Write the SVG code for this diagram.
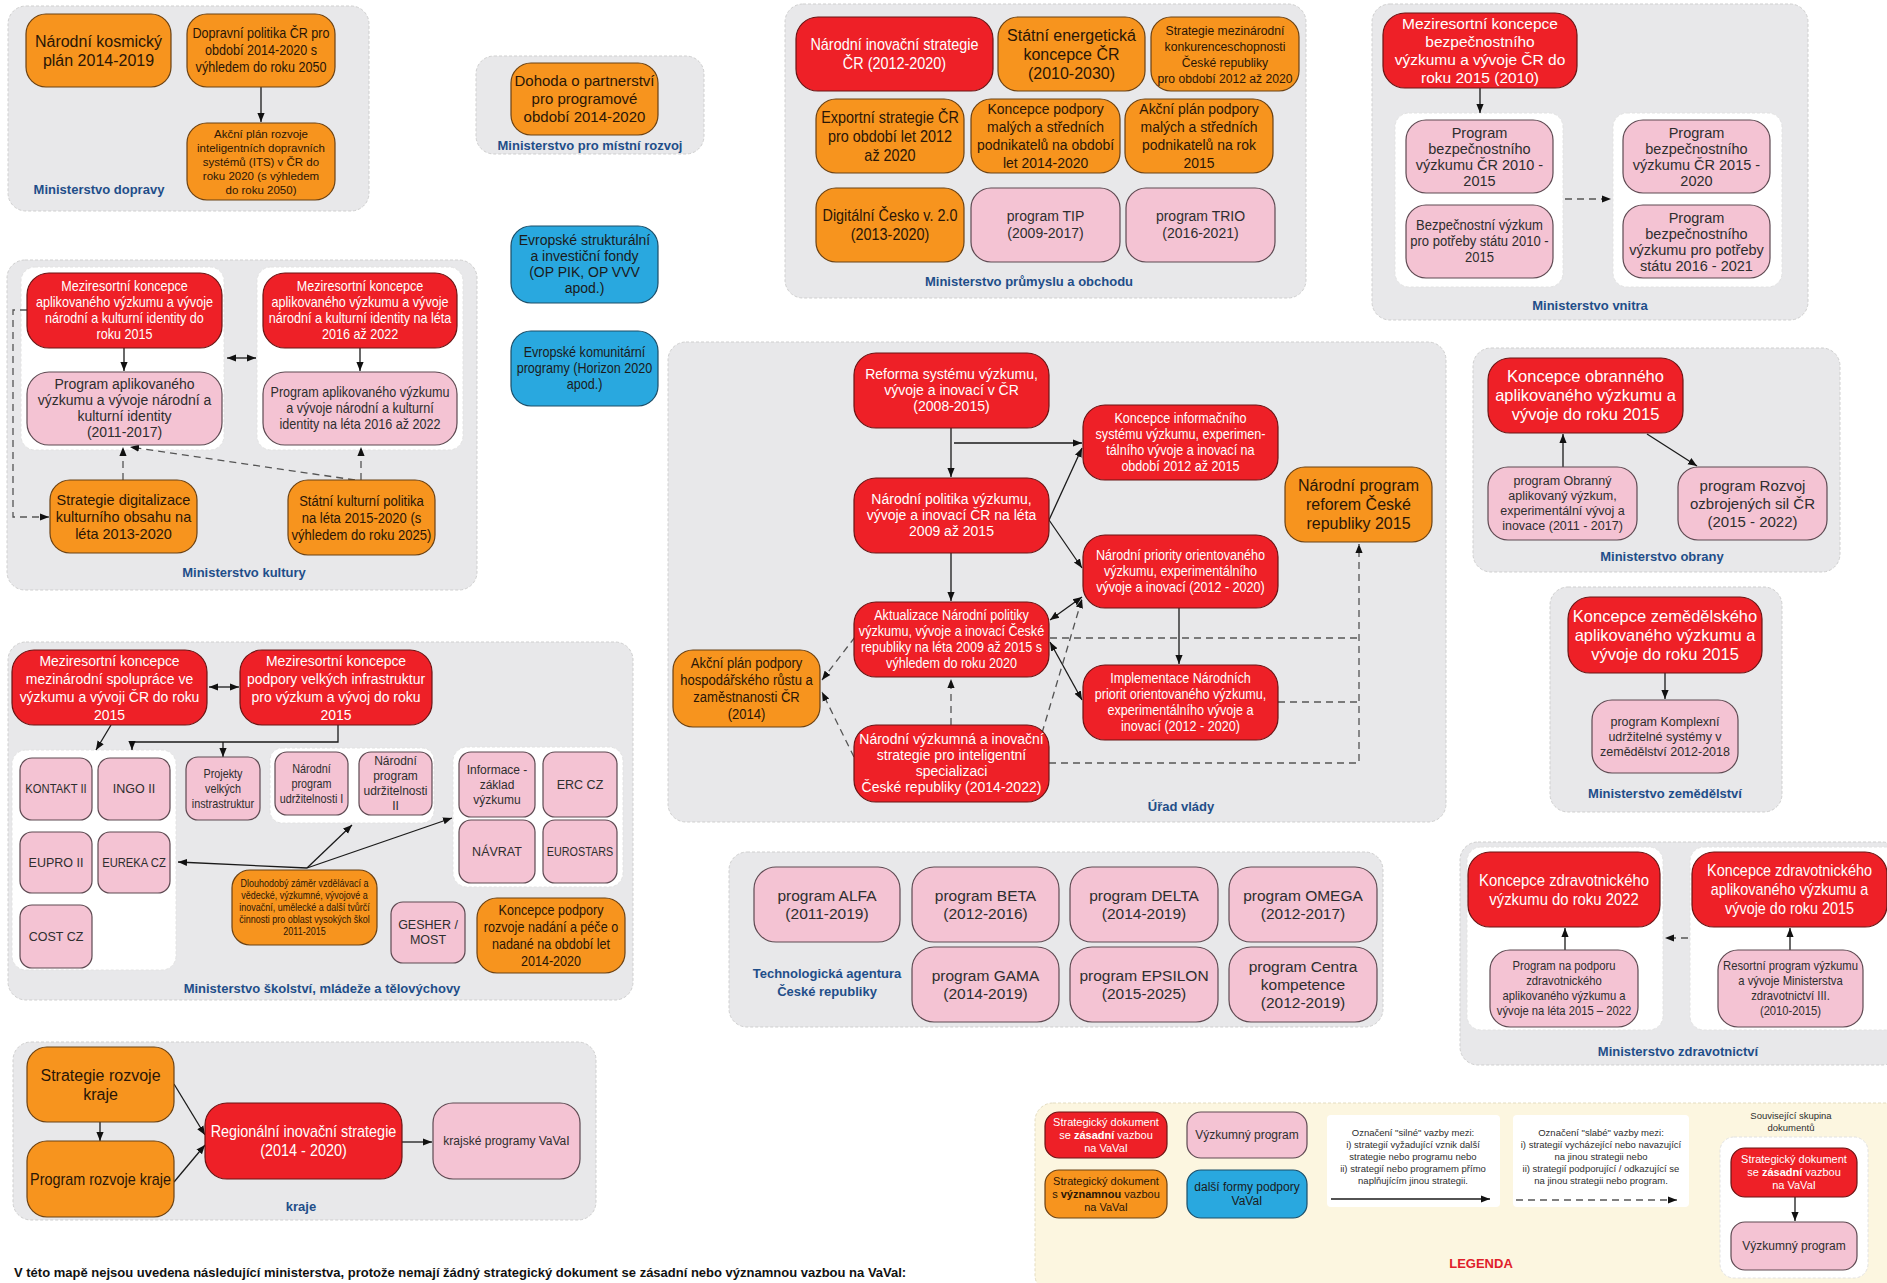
<svg xmlns="http://www.w3.org/2000/svg" width="1887" height="1283" viewBox="0 0 1887 1283">
<defs>
<style>
text{font-family:"Liberation Sans",Arial,sans-serif;text-anchor:middle}
.n{transform-box:fill-box;transform-origin:center;transform:scaleX(0.9)}
.grp{fill:#e8e8ea;stroke:#cfcfcf;stroke-width:1;stroke-dasharray:3 2}
.sub{fill:#ffffff;stroke:#e2e2e2;stroke-width:1;stroke-dasharray:3 2}
.leg{fill:#fcf6e0;stroke:#e3dcc0;stroke-width:1;stroke-dasharray:3 2}
.red{fill:#ee2027;stroke:#6b1414;stroke-width:1.2}
.org{fill:#f7941e;stroke:#6b4214;stroke-width:1.2}
.pnk{fill:#f4c3d3;stroke:#5e4a52;stroke-width:1.2}
.blu{fill:#29a8df;stroke:#1c4e68;stroke-width:1.2}
.wb{fill:#ffffff;stroke:none}
.tw{fill:#ffffff}
.to{fill:#2a1606}
.tp{fill:#2e2e2e}
.tb{fill:#1b1b1b}
.lbl{fill:#1f4e89;font-weight:bold;font-size:13px}
.c{stroke:#1a1a1a;stroke-width:1.3;fill:none;marker-end:url(#ah)}
.cc{stroke:#1a1a1a;stroke-width:1.3;fill:none;marker-end:url(#ah);marker-start:url(#ah)}
.d{stroke:#555555;stroke-width:1.3;fill:none;stroke-dasharray:7 5;marker-end:url(#ah)}
.dl{stroke:#555555;stroke-width:1.3;fill:none;stroke-dasharray:7 5}
</style>
<marker id="ah" viewBox="0 0 10 10" refX="10" refY="5" markerWidth="9" markerHeight="9" markerUnits="userSpaceOnUse" orient="auto-start-reverse"><path d="M0,1 L10,5 L0,9 z" fill="#111111"/></marker>
</defs>
<rect x="0" y="0" width="1887" height="1283" fill="#ffffff"/>

<g id="panels">
<rect class="grp" x="8" y="6" width="361" height="205" rx="18"/>
<rect class="grp" x="476" y="56" width="228" height="98" rx="18"/>
<rect class="grp" x="785" y="4" width="521" height="294" rx="18"/>
<rect class="grp" x="1372" y="4" width="436" height="316" rx="18"/>
<rect class="grp" x="7" y="260" width="470" height="330" rx="18"/>
<rect class="sub" x="21" y="267" width="203" height="183" rx="14"/>
<rect class="sub" x="257" y="267" width="206" height="183" rx="14"/>
<rect class="grp" x="8" y="642" width="625" height="358" rx="18"/>
<rect class="sub" x="12" y="750" width="164" height="220" rx="14"/>
<rect class="sub" x="270" y="748" width="164" height="75" rx="12"/>
<rect class="sub" x="453" y="747" width="170" height="140" rx="14"/>
<rect class="grp" x="13" y="1042" width="583" height="178" rx="18"/>
<rect class="grp" x="668" y="342" width="778" height="480" rx="18"/>
<rect class="grp" x="729" y="852" width="654" height="175" rx="18"/>
<rect class="grp" x="1473" y="348" width="367" height="224" rx="18"/>
<rect class="grp" x="1550" y="587" width="232" height="225" rx="18"/>
<rect class="grp" x="1460" y="842" width="440" height="223" rx="18"/>
<rect class="sub" x="1395" y="113" width="168" height="174" rx="14"/>
<rect class="sub" x="1613" y="113" width="169" height="174" rx="14"/>
<rect class="sub" x="1467" y="847" width="196" height="183" rx="14"/>
<rect class="sub" x="1690" y="847" width="210" height="183" rx="14"/>
<rect class="leg" x="1035" y="1103" width="870" height="190" rx="18"/>
<rect class="wb" x="1327" y="1115" width="173" height="92" rx="4"/>
<rect class="wb" x="1513" y="1115" width="176" height="92" rx="4"/>
<rect class="sub" x="1720" y="1137" width="148" height="141" rx="14"/>
</g>

<g id="labels">
<text class="lbl" x="99" y="194">Ministerstvo dopravy</text>
<text class="lbl" x="590" y="150">Ministerstvo pro místní rozvoj</text>
<text class="lbl" x="1029" y="286">Ministerstvo průmyslu a obchodu</text>
<text class="lbl" x="1590" y="310">Ministerstvo vnitra</text>
<text class="lbl" x="244" y="577">Ministerstvo kultury</text>
<text class="lbl" x="322" y="993">Ministerstvo školství, mládeže a tělovýchovy</text>
<text class="lbl" x="301" y="1211">kraje</text>
<text class="lbl" x="1181" y="811">Úřad vlády</text>
<text class="lbl" x="827" y="978">Technologická agentura</text>
<text class="lbl" x="827" y="996">České republiky</text>
<text class="lbl" x="1662" y="561">Ministerstvo obrany</text>
<text class="lbl" x="1665" y="798">Ministerstvo zemědělství</text>
<text class="lbl" x="1678" y="1056">Ministerstvo zdravotnictví</text>
<text x="1481" y="1268" style="fill:#e0202a;font-weight:bold;font-size:13px">LEGENDA</text>
<text x="14" y="1277" style="text-anchor:start;fill:#111111;font-weight:bold;font-size:13px">V této mapě nejsou uvedena následující ministerstva, protože nemají žádný strategický dokument se zásadní nebo významnou vazbou na VaVaI:</text>
</g>

<g id="connectors">
<line class="c" x1="261" y1="87" x2="261" y2="122"/>
<line class="c" x1="1480" y1="88" x2="1480" y2="113"/>
<line class="d" x1="1565" y1="199" x2="1611" y2="199"/>
<line class="cc" x1="227" y1="358" x2="256" y2="358"/>
<line class="c" x1="124" y1="348" x2="124" y2="371"/>
<line class="c" x1="360" y1="348" x2="360" y2="371"/>
<line class="d" x1="123" y1="480" x2="123" y2="447"/>
<line class="d" x1="361" y1="480" x2="361" y2="447"/>
<line class="d" x1="355" y1="480" x2="130" y2="447"/>
<path class="d" d="M27,310 H13 V517 H49"/>
<line class="cc" x1="209" y1="687" x2="239" y2="687"/>
<line class="c" x1="111" y1="725" x2="96" y2="750"/>
<path class="c" d="M338,725 V742 H132 V750"/>
<line class="c" x1="223" y1="742" x2="223" y2="757"/>
<line class="c" x1="307" y1="868" x2="178" y2="862"/>
<line class="c" x1="307" y1="868" x2="352" y2="825"/>
<line class="c" x1="307" y1="868" x2="452" y2="818"/>
<line class="c" x1="100" y1="1122" x2="100" y2="1141"/>
<line class="c" x1="174" y1="1084" x2="205" y2="1135"/>
<line class="c" x1="174" y1="1182" x2="205" y2="1145"/>
<line class="c" x1="402" y1="1142" x2="432" y2="1142"/>
<line class="c" x1="951" y1="428" x2="951" y2="477"/>
<path class="c" d="M954,443 H1082"/>
<line class="c" x1="1049" y1="520" x2="1082" y2="448"/>
<line class="c" x1="1049" y1="520" x2="1082" y2="568"/>
<line class="c" x1="951" y1="553" x2="951" y2="601"/>
<line class="cc" x1="1050" y1="620" x2="1082" y2="597"/>
<line class="c" x1="1179" y1="608" x2="1179" y2="664"/>
<line class="cc" x1="1050" y1="642" x2="1082" y2="700"/>
<path class="dl" d="M1050,638 H1359"/>
<path class="dl" d="M1278,702 H1359"/>
<path class="d" d="M1049,763 H1359 V544"/>
<line class="d" x1="951" y1="725" x2="951" y2="679"/>
<line class="d" x1="1042" y1="733" x2="1082" y2="599"/>
<line class="d" x1="855" y1="637" x2="822" y2="680"/>
<line class="d" x1="854" y1="757" x2="822" y2="692"/>
<line class="c" x1="1563" y1="467" x2="1563" y2="434"/>
<line class="c" x1="1647" y1="434" x2="1697" y2="466"/>
<line class="c" x1="1665" y1="673" x2="1665" y2="699"/>
<line class="c" x1="1565" y1="950" x2="1565" y2="928"/>
<line class="c" x1="1790" y1="950" x2="1790" y2="928"/>
<line class="d" x1="1688" y1="938" x2="1665" y2="938"/>
<line class="c" x1="1331" y1="1199" x2="1490" y2="1199"/>
<line class="d" x1="1516" y1="1200" x2="1677" y2="1200"/>
<line class="c" x1="1795" y1="1197" x2="1795" y2="1221"/>
</g>

<g id="dop1"><rect class="org" x="26" y="14" width="145" height="73" rx="20"/><text class="to" x="98.5" y="46.6" font-size="16"><tspan x="98.5">Národní kosmický</tspan><tspan x="98.5" dy="19">plán 2014-2019</tspan></text></g>
<g id="dop2"><rect class="org" x="187" y="14" width="148" height="73" rx="20"/><text class="to n" x="261" y="38.4" font-size="14"><tspan x="261">Dopravní politika ČR pro</tspan><tspan x="261" dy="17">období 2014-2020 s</tspan><tspan x="261" dy="17">výhledem do roku 2050</tspan></text></g>
<g id="dop3"><rect class="org" x="187" y="123" width="148" height="77" rx="20"/><text class="to" x="261" y="137.5" font-size="11.5"><tspan x="261">Akční plán rozvoje</tspan><tspan x="261" dy="14">inteligentních dopravních</tspan><tspan x="261" dy="14">systémů (ITS) v ČR do</tspan><tspan x="261" dy="14">roku 2020 (s výhledem</tspan><tspan x="261" dy="14">do roku 2050)</tspan></text></g>

<g id="mmr1"><rect class="org" x="511" y="63" width="147" height="72" rx="20"/><text class="to" x="584.5" y="86.3" font-size="15"><tspan x="584.5">Dohoda o partnerství</tspan><tspan x="584.5" dy="18">pro programové</tspan><tspan x="584.5" dy="18">období 2014-2020</tspan></text></g>
<g id="eu1"><rect class="blu" x="511" y="226" width="147" height="77" rx="20"/><text class="tb" x="584.5" y="245.4" font-size="14"><tspan x="584.5">Evropské strukturální</tspan><tspan x="584.5" dy="16">a investiční fondy</tspan><tspan x="584.5" dy="16">(OP PIK, OP VVV</tspan><tspan x="584.5" dy="16">apod.)</tspan></text></g>
<g id="eu2"><rect class="blu" x="511" y="331" width="147" height="75" rx="20"/><text class="tb n" x="584.5" y="357.4" font-size="14"><tspan x="584.5">Evropské komunitární</tspan><tspan x="584.5" dy="16">programy (Horizon 2020</tspan><tspan x="584.5" dy="16">apod.)</tspan></text></g>

<g id="mpo1"><rect class="red" x="796" y="17" width="197" height="74" rx="22"/><text class="tw n" x="894.5" y="50.1" font-size="16"><tspan x="894.5">Národní inovační strategie</tspan><tspan x="894.5" dy="19">ČR (2012-2020)</tspan></text></g>
<g id="mpo2"><rect class="org" x="998" y="17" width="147" height="74" rx="20"/><text class="to" x="1071.5" y="40.6" font-size="16"><tspan x="1071.5">Státní energetická</tspan><tspan x="1071.5" dy="19">koncepce ČR</tspan><tspan x="1071.5" dy="19">(2010-2030)</tspan></text></g>
<g id="mpo3"><rect class="org" x="1151" y="17" width="148" height="74" rx="20"/><text class="to n" x="1225" y="34.7" font-size="13.5"><tspan x="1225">Strategie mezinárodní</tspan><tspan x="1225" dy="16">konkurenceschopnosti</tspan><tspan x="1225" dy="16">České republiky</tspan><tspan x="1225" dy="16">pro období 2012 až 2020</tspan></text></g>
<g id="mpo4"><rect class="org" x="816" y="99" width="148" height="74" rx="20"/><text class="to n" x="890" y="122.6" font-size="16"><tspan x="890">Exportní strategie ČR</tspan><tspan x="890" dy="19">pro období let 2012</tspan><tspan x="890" dy="19">až 2020</tspan></text></g>
<g id="mpo5"><rect class="org" x="971" y="99" width="149" height="74" rx="20"/><text class="to n" x="1045.5" y="114.4" font-size="15.5"><tspan x="1045.5">Koncepce podpory</tspan><tspan x="1045.5" dy="18">malých a středních</tspan><tspan x="1045.5" dy="18">podnikatelů na období</tspan><tspan x="1045.5" dy="18">let 2014-2020</tspan></text></g>
<g id="mpo6"><rect class="org" x="1125" y="99" width="148" height="74" rx="20"/><text class="to n" x="1199" y="114.4" font-size="15.5"><tspan x="1199">Akční plán podpory</tspan><tspan x="1199" dy="18">malých a středních</tspan><tspan x="1199" dy="18">podnikatelů na rok</tspan><tspan x="1199" dy="18">2015</tspan></text></g>
<g id="mpo7"><rect class="org" x="816" y="188" width="148" height="74" rx="20"/><text class="to n" x="890" y="221.1" font-size="16"><tspan x="890">Digitální Česko v. 2.0</tspan><tspan x="890" dy="19">(2013-2020)</tspan></text></g>
<g id="mpo8"><rect class="pnk" x="971" y="188" width="149" height="74" rx="20"/><text class="tp" x="1045.5" y="221.4" font-size="14"><tspan x="1045.5">program TIP</tspan><tspan x="1045.5" dy="17">(2009-2017)</tspan></text></g>
<g id="mpo9"><rect class="pnk" x="1126" y="188" width="149" height="74" rx="20"/><text class="tp" x="1200.5" y="221.4" font-size="14"><tspan x="1200.5">program TRIO</tspan><tspan x="1200.5" dy="17">(2016-2021)</tspan></text></g>

<g id="mv1"><rect class="red" x="1383" y="13" width="194" height="75" rx="22"/><text class="tw" x="1480" y="28.9" font-size="15.5"><tspan x="1480">Meziresortní koncepce</tspan><tspan x="1480" dy="18">bezpečnostního</tspan><tspan x="1480" dy="18">výzkumu a vývoje ČR do</tspan><tspan x="1480" dy="18">roku 2015 (2010)</tspan></text></g>
<g id="mv2"><rect class="pnk" x="1406" y="120" width="147" height="73" rx="20"/><text class="tp" x="1479.5" y="137.5" font-size="14.5"><tspan x="1479.5">Program</tspan><tspan x="1479.5" dy="16">bezpečnostního</tspan><tspan x="1479.5" dy="16">výzkumu ČR 2010 -</tspan><tspan x="1479.5" dy="16">2015</tspan></text></g>
<g id="mv3"><rect class="pnk" x="1406" y="205" width="147" height="73" rx="20"/><text class="tp n" x="1479.5" y="230.5" font-size="14.5"><tspan x="1479.5">Bezpečnostní výzkum</tspan><tspan x="1479.5" dy="16">pro potřeby státu 2010 -</tspan><tspan x="1479.5" dy="16">2015</tspan></text></g>
<g id="mv4"><rect class="pnk" x="1623" y="120" width="147" height="73" rx="20"/><text class="tp" x="1696.5" y="137.5" font-size="14.5"><tspan x="1696.5">Program</tspan><tspan x="1696.5" dy="16">bezpečnostního</tspan><tspan x="1696.5" dy="16">výzkumu ČR 2015 -</tspan><tspan x="1696.5" dy="16">2020</tspan></text></g>
<g id="mv5"><rect class="pnk" x="1623" y="205" width="147" height="73" rx="20"/><text class="tp" x="1696.5" y="222.5" font-size="14.5"><tspan x="1696.5">Program</tspan><tspan x="1696.5" dy="16">bezpečnostního</tspan><tspan x="1696.5" dy="16">výzkumu pro potřeby</tspan><tspan x="1696.5" dy="16">státu 2016 - 2021</tspan></text></g>

<g id="mk1"><rect class="red" x="27" y="273" width="195" height="75" rx="22"/><text class="tw n" x="124.5" y="291.4" font-size="14"><tspan x="124.5">Meziresortní koncepce</tspan><tspan x="124.5" dy="16">aplikovaného výzkumu a vývoje</tspan><tspan x="124.5" dy="16">národní a kulturní identity do</tspan><tspan x="124.5" dy="16">roku 2015</tspan></text></g>
<g id="mk2"><rect class="pnk" x="27" y="372" width="195" height="73" rx="22"/><text class="tp" x="124.5" y="389.4" font-size="14"><tspan x="124.5">Program aplikovaného</tspan><tspan x="124.5" dy="16">výzkumu a vývoje národní a</tspan><tspan x="124.5" dy="16">kulturní identity</tspan><tspan x="124.5" dy="16">(2011-2017)</tspan></text></g>
<g id="mk3"><rect class="red" x="263" y="273" width="194" height="75" rx="22"/><text class="tw n" x="360" y="291.4" font-size="14"><tspan x="360">Meziresortní koncepce</tspan><tspan x="360" dy="16">aplikovaného výzkumu a vývoje</tspan><tspan x="360" dy="16">národní a kulturní identity na léta</tspan><tspan x="360" dy="16">2016 až 2022</tspan></text></g>
<g id="mk4"><rect class="pnk" x="263" y="372" width="194" height="73" rx="22"/><text class="tp n" x="360" y="397.4" font-size="14"><tspan x="360">Program aplikovaného výzkumu</tspan><tspan x="360" dy="16">a vývoje národní a kulturní</tspan><tspan x="360" dy="16">identity na léta 2016 až 2022</tspan></text></g>
<g id="mk5"><rect class="org" x="50" y="480" width="147" height="73" rx="20"/><text class="to" x="123.5" y="504.6" font-size="14.5"><tspan x="123.5">Strategie digitalizace</tspan><tspan x="123.5" dy="17">kulturního obsahu na</tspan><tspan x="123.5" dy="17">léta 2013-2020</tspan></text></g>
<g id="mk6"><rect class="org" x="288" y="480" width="147" height="75" rx="20"/><text class="to n" x="361.5" y="505.6" font-size="14.5"><tspan x="361.5">Státní kulturní politika</tspan><tspan x="361.5" dy="17">na léta 2015-2020 (s</tspan><tspan x="361.5" dy="17">výhledem do roku 2025)</tspan></text></g>

<g id="ms1"><rect class="red" x="12" y="650" width="195" height="75" rx="22"/><text class="tw n" x="109.5" y="665.9" font-size="15.5"><tspan x="109.5">Meziresortní koncepce</tspan><tspan x="109.5" dy="18">mezinárodní spolupráce ve</tspan><tspan x="109.5" dy="18">výzkumu a vývoji ČR do roku</tspan><tspan x="109.5" dy="18">2015</tspan></text></g>
<g id="ms2"><rect class="red" x="240" y="650" width="192" height="75" rx="22"/><text class="tw n" x="336" y="665.9" font-size="15.5"><tspan x="336">Meziresortní koncepce</tspan><tspan x="336" dy="18">podpory velkých infrastruktur</tspan><tspan x="336" dy="18">pro výzkum a vývoj do roku</tspan><tspan x="336" dy="18">2015</tspan></text></g>
<g id="ms3"><rect class="pnk" x="20" y="758" width="72" height="62" rx="12"/><text class="tp n" x="56" y="793.4" font-size="12.5">KONTAKT II</text></g>
<g id="ms4"><rect class="pnk" x="98" y="758" width="72" height="62" rx="12"/><text class="tp" x="134" y="793.4" font-size="12.5">INGO II</text></g>
<g id="ms5"><rect class="pnk" x="20" y="832" width="72" height="61" rx="12"/><text class="tp" x="56" y="866.9" font-size="12.5">EUPRO II</text></g>
<g id="ms6"><rect class="pnk" x="98" y="832" width="72" height="61" rx="12"/><text class="tp n" x="134" y="866.9" font-size="12.5">EUREKA CZ</text></g>
<g id="ms7"><rect class="pnk" x="20" y="905" width="72" height="63" rx="12"/><text class="tp" x="56" y="940.9" font-size="12.5">COST CZ</text></g>
<g id="ms8"><rect class="pnk" x="186" y="757" width="74" height="63" rx="12"/><text class="tp n" x="223" y="777.7" font-size="12"><tspan x="223">Projekty</tspan><tspan x="223" dy="15">velkých</tspan><tspan x="223" dy="15">instrastruktur</tspan></text></g>
<g id="ms9"><rect class="pnk" x="275" y="752" width="73" height="63" rx="12"/><text class="tp n" x="311.5" y="772.7" font-size="12"><tspan x="311.5">Národní</tspan><tspan x="311.5" dy="15">program</tspan><tspan x="311.5" dy="15">udržitelnosti I</tspan></text></g>
<g id="ms10"><rect class="pnk" x="359" y="752" width="73" height="63" rx="12"/><text class="tp" x="395.5" y="765.2" font-size="12"><tspan x="395.5">Národní</tspan><tspan x="395.5" dy="15">program</tspan><tspan x="395.5" dy="15">udržitelnosti</tspan><tspan x="395.5" dy="15">II</tspan></text></g>
<g id="ms11"><rect class="pnk" x="459" y="752" width="76" height="65" rx="12"/><text class="tp" x="497" y="773.7" font-size="12"><tspan x="497">Informace -</tspan><tspan x="497" dy="15">základ</tspan><tspan x="497" dy="15">výzkumu</tspan></text></g>
<g id="ms12"><rect class="pnk" x="543" y="752" width="74" height="65" rx="12"/><text class="tp" x="580" y="788.9" font-size="12.5">ERC CZ</text></g>
<g id="ms13"><rect class="pnk" x="459" y="820" width="76" height="63" rx="12"/><text class="tp" x="497" y="855.9" font-size="12.5">NÁVRAT</text></g>
<g id="ms14"><rect class="pnk" x="543" y="820" width="74" height="63" rx="12"/><text class="tp n" x="580" y="855.9" font-size="12">EUROSTARS</text></g>
<g id="ms15"><rect class="org" x="232" y="870" width="145" height="75" rx="18"/><text class="to n" x="304.5" y="887" font-size="10"><tspan x="304.5">Dlouhodobý záměr vzdělávací a</tspan><tspan x="304.5" dy="12">vědecké, výzkumné, vývojové a</tspan><tspan x="304.5" dy="12">inovační, umělecké a další tvůrčí</tspan><tspan x="304.5" dy="12">činnosti pro oblast vysokých škol</tspan><tspan x="304.5" dy="12">2011-2015</tspan></text></g>
<g id="ms16"><rect class="pnk" x="391" y="902" width="74" height="61" rx="12"/><text class="tp" x="428" y="929.4" font-size="12.5"><tspan x="428">GESHER /</tspan><tspan x="428" dy="15">MOST</tspan></text></g>
<g id="ms17"><rect class="org" x="477" y="898" width="148" height="75" rx="20"/><text class="to n" x="551" y="914.9" font-size="14"><tspan x="551">Koncepce podpory</tspan><tspan x="551" dy="17">rozvoje nadání a péče o</tspan><tspan x="551" dy="17">nadané na období let</tspan><tspan x="551" dy="17">2014-2020</tspan></text></g>

<g id="kr1"><rect class="org" x="27" y="1047" width="147" height="75" rx="20"/><text class="to" x="100.5" y="1080.6" font-size="16"><tspan x="100.5">Strategie rozvoje</tspan><tspan x="100.5" dy="19">kraje</tspan></text></g>
<g id="kr2"><rect class="org" x="27" y="1141" width="147" height="76" rx="20"/><text class="to n" x="100.5" y="1184.6" font-size="16">Program rozvoje kraje</text></g>
<g id="kr3"><rect class="red" x="205" y="1103" width="197" height="76" rx="22"/><text class="tw n" x="303.5" y="1137.1" font-size="16"><tspan x="303.5">Regionální inovační strategie</tspan><tspan x="303.5" dy="19">(2014 - 2020)</tspan></text></g>
<g id="kr4"><rect class="pnk" x="433" y="1103" width="147" height="76" rx="20"/><text class="tp" x="506.5" y="1145.2" font-size="12">krajské programy VaVaI</text></g>

<g id="uv1"><rect class="red" x="854" y="353" width="195" height="75" rx="22"/><text class="tw" x="951.5" y="379.4" font-size="14"><tspan x="951.5">Reforma systému výzkumu,</tspan><tspan x="951.5" dy="16">vývoje a inovací v ČR</tspan><tspan x="951.5" dy="16">(2008-2015)</tspan></text></g>
<g id="uv2"><rect class="red" x="1083" y="405" width="195" height="75" rx="22"/><text class="tw n" x="1180.5" y="423.4" font-size="14"><tspan x="1180.5">Koncepce informačního</tspan><tspan x="1180.5" dy="16">systému výzkumu, experimen-</tspan><tspan x="1180.5" dy="16">tálního vývoje a inovací na</tspan><tspan x="1180.5" dy="16">období 2012 až 2015</tspan></text></g>
<g id="uv3"><rect class="red" x="854" y="478" width="195" height="75" rx="22"/><text class="tw" x="951.5" y="504.4" font-size="14"><tspan x="951.5">Národní politika výzkumu,</tspan><tspan x="951.5" dy="16">vývoje a inovací ČR na léta</tspan><tspan x="951.5" dy="16">2009 až 2015</tspan></text></g>
<g id="uv4"><rect class="org" x="1285" y="467" width="147" height="75" rx="20"/><text class="to" x="1358.5" y="491.1" font-size="16"><tspan x="1358.5">Národní program</tspan><tspan x="1358.5" dy="19">reforem České</tspan><tspan x="1358.5" dy="19">republiky 2015</tspan></text></g>
<g id="uv5"><rect class="red" x="1083" y="535" width="195" height="73" rx="22"/><text class="tw n" x="1180.5" y="560.4" font-size="14"><tspan x="1180.5">Národní priority orientovaného</tspan><tspan x="1180.5" dy="16">výzkumu, experimentálního</tspan><tspan x="1180.5" dy="16">vývoje a inovací (2012 - 2020)</tspan></text></g>
<g id="uv6"><rect class="red" x="854" y="602" width="195" height="75" rx="22"/><text class="tw n" x="951.5" y="620.4" font-size="14"><tspan x="951.5">Aktualizace Národní politiky</tspan><tspan x="951.5" dy="16">výzkumu, vývoje a inovací České</tspan><tspan x="951.5" dy="16">republiky na léta 2009 až 2015 s</tspan><tspan x="951.5" dy="16">výhledem do roku 2020</tspan></text></g>
<g id="uv7"><rect class="org" x="673" y="650" width="147" height="77" rx="20"/><text class="to n" x="746.5" y="668.1" font-size="14.5"><tspan x="746.5">Akční plán podpory</tspan><tspan x="746.5" dy="17">hospodářského růstu a</tspan><tspan x="746.5" dy="17">zaměstnanosti ČR</tspan><tspan x="746.5" dy="17">(2014)</tspan></text></g>
<g id="uv8"><rect class="red" x="1083" y="665" width="195" height="75" rx="22"/><text class="tw n" x="1180.5" y="683.4" font-size="14"><tspan x="1180.5">Implementace Národních</tspan><tspan x="1180.5" dy="16">priorit orientovaného výzkumu,</tspan><tspan x="1180.5" dy="16">experimentálního vývoje a</tspan><tspan x="1180.5" dy="16">inovací (2012 - 2020)</tspan></text></g>
<g id="uv9"><rect class="red" x="854" y="725" width="195" height="77" rx="22"/><text class="tw" x="951.5" y="744.4" font-size="14"><tspan x="951.5">Národní výzkumná a inovační</tspan><tspan x="951.5" dy="16">strategie pro inteligentní</tspan><tspan x="951.5" dy="16">specializaci</tspan><tspan x="951.5" dy="16">České republiky (2014-2022)</tspan></text></g>

<g id="ta1"><rect class="pnk" x="754" y="867" width="146" height="75" rx="22"/><text class="tp" x="827" y="900.9" font-size="15.5"><tspan x="827">program ALFA</tspan><tspan x="827" dy="18">(2011-2019)</tspan></text></g>
<g id="ta2"><rect class="pnk" x="912" y="867" width="147" height="75" rx="22"/><text class="tp" x="985.5" y="900.9" font-size="15.5"><tspan x="985.5">program BETA</tspan><tspan x="985.5" dy="18">(2012-2016)</tspan></text></g>
<g id="ta3"><rect class="pnk" x="1070" y="867" width="148" height="75" rx="22"/><text class="tp" x="1144" y="900.9" font-size="15.5"><tspan x="1144">program DELTA</tspan><tspan x="1144" dy="18">(2014-2019)</tspan></text></g>
<g id="ta4"><rect class="pnk" x="1229" y="867" width="148" height="75" rx="22"/><text class="tp" x="1303" y="900.9" font-size="15.5"><tspan x="1303">program OMEGA</tspan><tspan x="1303" dy="18">(2012-2017)</tspan></text></g>
<g id="ta5"><rect class="pnk" x="912" y="947" width="147" height="75" rx="22"/><text class="tp" x="985.5" y="980.9" font-size="15.5"><tspan x="985.5">program GAMA</tspan><tspan x="985.5" dy="18">(2014-2019)</tspan></text></g>
<g id="ta6"><rect class="pnk" x="1070" y="947" width="148" height="75" rx="22"/><text class="tp" x="1144" y="980.9" font-size="15.5"><tspan x="1144">program EPSILON</tspan><tspan x="1144" dy="18">(2015-2025)</tspan></text></g>
<g id="ta7"><rect class="pnk" x="1229" y="947" width="148" height="75" rx="22"/><text class="tp" x="1303" y="971.9" font-size="15.5"><tspan x="1303">program Centra</tspan><tspan x="1303" dy="18">kompetence</tspan><tspan x="1303" dy="18">(2012-2019)</tspan></text></g>

<g id="mo1"><rect class="red" x="1488" y="358" width="195" height="75" rx="22"/><text class="tw" x="1585.5" y="382.3" font-size="16.5"><tspan x="1585.5">Koncepce obranného</tspan><tspan x="1585.5" dy="19">aplikovaného výzkumu a</tspan><tspan x="1585.5" dy="19">vývoje do roku 2015</tspan></text></g>
<g id="mo2"><rect class="pnk" x="1488" y="467" width="149" height="73" rx="20"/><text class="tp" x="1562.5" y="485.4" font-size="12.5"><tspan x="1562.5">program Obranný</tspan><tspan x="1562.5" dy="15">aplikovaný výzkum,</tspan><tspan x="1562.5" dy="15">experimentální vývoj a</tspan><tspan x="1562.5" dy="15">inovace (2011 - 2017)</tspan></text></g>
<g id="mo3"><rect class="pnk" x="1678" y="467" width="149" height="73" rx="20"/><text class="tp" x="1752.5" y="490.8" font-size="15"><tspan x="1752.5">program Rozvoj</tspan><tspan x="1752.5" dy="18">ozbrojených sil ČR</tspan><tspan x="1752.5" dy="18">(2015 - 2022)</tspan></text></g>

<g id="mz1"><rect class="red" x="1568" y="597" width="194" height="76" rx="22"/><text class="tw" x="1665" y="621.8" font-size="16.5"><tspan x="1665">Koncepce zemědělského</tspan><tspan x="1665" dy="19">aplikovaného výzkumu a</tspan><tspan x="1665" dy="19">vývoje do roku 2015</tspan></text></g>
<g id="mz2"><rect class="pnk" x="1592" y="700" width="146" height="73" rx="20"/><text class="tp" x="1665" y="725.9" font-size="12.5"><tspan x="1665">program Komplexní</tspan><tspan x="1665" dy="15">udržitelné systémy v</tspan><tspan x="1665" dy="15">zemědělství 2012-2018</tspan></text></g>

<g id="mzd1"><rect class="red" x="1468" y="852" width="192" height="75" rx="22"/><text class="tw n" x="1564" y="885.8" font-size="16.5"><tspan x="1564">Koncepce zdravotnického</tspan><tspan x="1564" dy="19">výzkumu do roku 2022</tspan></text></g>
<g id="mzd2"><rect class="pnk" x="1490" y="950" width="148" height="77" rx="20"/><text class="tp n" x="1564" y="970.4" font-size="12.5"><tspan x="1564">Program na podporu</tspan><tspan x="1564" dy="15">zdravotnického</tspan><tspan x="1564" dy="15">aplikovaného výzkumu a</tspan><tspan x="1564" dy="15">vývoje na léta 2015 – 2022</tspan></text></g>
<g id="mzd3"><rect class="red" x="1692" y="852" width="195" height="75" rx="22"/><text class="tw n" x="1789.5" y="876.1" font-size="16"><tspan x="1789.5">Koncepce zdravotnického</tspan><tspan x="1789.5" dy="19">aplikovaného výzkumu a</tspan><tspan x="1789.5" dy="19">vývoje do roku 2015</tspan></text></g>
<g id="mzd4"><rect class="pnk" x="1718" y="950" width="145" height="77" rx="20"/><text class="tp n" x="1790.5" y="970.4" font-size="12.5"><tspan x="1790.5">Resortní program výzkumu</tspan><tspan x="1790.5" dy="15">a vývoje Ministerstva</tspan><tspan x="1790.5" dy="15">zdravotnictví III.</tspan><tspan x="1790.5" dy="15">(2010-2015)</tspan></text></g>

<g id="legend">
<g id="lg1"><rect class="red" x="1045" y="1112" width="122" height="46" rx="14"/><text class="tw" x="1106" y="1125.9" font-size="11"><tspan x="1106">Strategický dokument</tspan><tspan x="1106" dy="13">se <tspan font-weight="bold">zásadní</tspan> vazbou</tspan><tspan x="1106" dy="13">na VaVaI</tspan></text></g>
<g id="lg2"><rect class="pnk" x="1187" y="1112" width="120" height="46" rx="14"/><text class="tp" x="1247" y="1139.2" font-size="12">Výzkumný program</text></g>
<g id="lg3"><rect class="org" x="1045" y="1170" width="122" height="48" rx="14"/><text class="to" x="1106" y="1184.9" font-size="11"><tspan x="1106">Strategický dokument</tspan><tspan x="1106" dy="13">s <tspan font-weight="bold">významnou</tspan> vazbou</tspan><tspan x="1106" dy="13">na VaVaI</tspan></text></g>
<g id="lg4"><rect class="blu" x="1187" y="1170" width="120" height="48" rx="14"/><text class="tb" x="1247" y="1191.2" font-size="12"><tspan x="1247">další formy podpory</tspan><tspan x="1247" dy="14">VaVaI</tspan></text></g>
<text class="tp" x="1413" y="1136.3" font-size="9.5"><tspan x="1413">Označení "silné" vazby mezi:</tspan><tspan x="1413" dy="12">i) strategií vyžadující vznik další</tspan><tspan x="1413" dy="12">strategie nebo programu nebo</tspan><tspan x="1413" dy="12">ii) strategií nebo programem přímo</tspan><tspan x="1413" dy="12">naplňujícím jinou strategii.</tspan></text>
<text class="tp" x="1601" y="1136.3" font-size="9.5"><tspan x="1601">Označení "slabé" vazby mezi:</tspan><tspan x="1601" dy="12">i) strategií vycházející nebo navazující</tspan><tspan x="1601" dy="12">na jinou strategii nebo</tspan><tspan x="1601" dy="12">ii) strategií podporující / odkazující se</tspan><tspan x="1601" dy="12">na jinou strategii nebo program.</tspan></text>
<text class="tp" x="1791" y="1119" font-size="9.5"><tspan x="1791">Související skupina</tspan><tspan x="1791" dy="12">dokumentů</tspan></text>
<g id="lg5"><rect class="red" x="1731" y="1148" width="126" height="49" rx="14"/><text class="tw" x="1794" y="1163.4" font-size="11"><tspan x="1794">Strategický dokument</tspan><tspan x="1794" dy="13">se <tspan font-weight="bold">zásadní</tspan> vazbou</tspan><tspan x="1794" dy="13">na VaVaI</tspan></text></g>
<g id="lg6"><rect class="pnk" x="1731" y="1222" width="126" height="48" rx="14"/><text class="tp" x="1794" y="1250.2" font-size="12">Výzkumný program</text></g>
</g>
</svg>
